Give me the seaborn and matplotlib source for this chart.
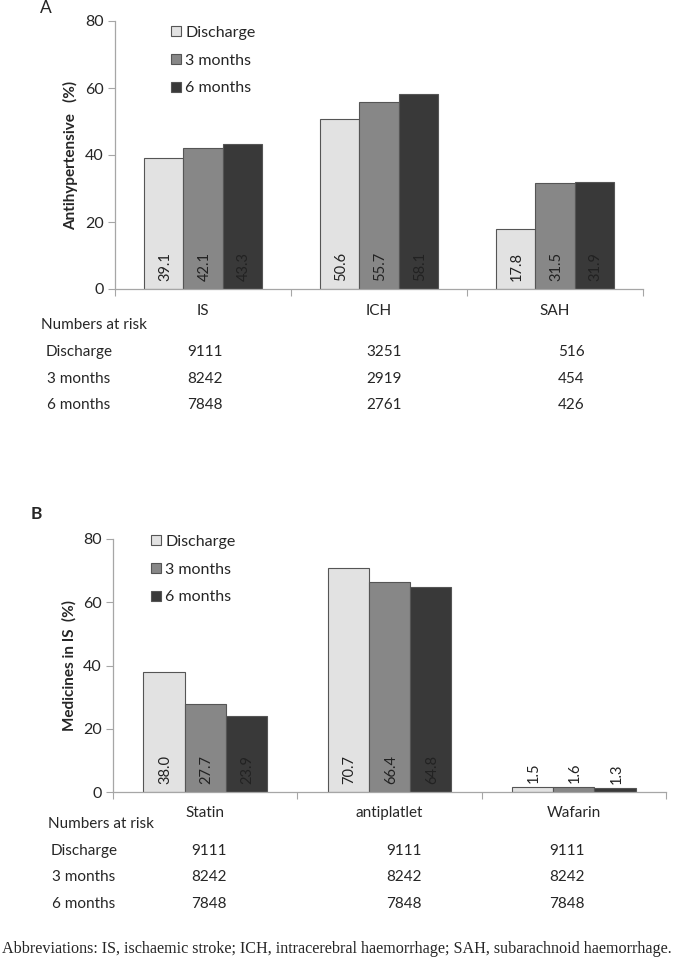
import matplotlib
matplotlib.use("Agg")
import matplotlib.pyplot as plt
import matplotlib.transforms as mtransforms
import numpy as np
import pandas as pd
import seaborn as sns

# ---- data -------------------------------------------------------------
TIMES = ["Discharge", "3 months", "6 months"]

cats_a = ["IS", "ICH", "SAH"]
discharge_a = [39.1, 50.6, 17.8]
month3_a = [42.1, 55.7, 31.5]
month6_a = [43.3, 58.1, 31.9]
risk_a = {
    "Discharge": [9111, 3251, 516],
    "3 months": [8242, 2919, 454],
    "6 months": [7848, 2761, 426],
}

cats_b = ["Statin", "antiplatlet", "Wafarin"]
discharge_b = [38.0, 70.7, 1.5]
month3_b = [27.7, 66.4, 1.6]
month6_b = [23.9, 64.8, 1.3]
risk_b = {
    "Discharge": [9111, 9111, 9111],
    "3 months": [8242, 8242, 8242],
    "6 months": [7848, 7848, 7848],
}

COLORS = ["#e2e2e2", "#878787", "#393939"]
EDGE = "#555555"
AXIS_GREY = "#a6a6a6"

W, H = 691, 959


def px(x, y):
    """pixel position (from top-left) -> figure fraction"""
    return x / W, 1 - y / H


def long_form(cats, d, m3, m6):
    rows = []
    for t, vals in zip(TIMES, [d, m3, m6]):
        for c, v in zip(cats, vals):
            rows.append({"cat": c, "time": t, "value": v})
    return pd.DataFrame(rows)


sns.set_theme(style="white")
plt.rcParams["font.family"] = ["Lato", "DejaVu Sans"]

fig = plt.figure(figsize=(W / 100, H / 100), dpi=100)


def panel(rect, cats, d, m3, m6, ylabel, legend_xy, risk, head_y, risk_x,
          row_y, numbers_xy, row_x):
    ax = fig.add_axes(rect)
    df = long_form(cats, d, m3, m6)
    sns.barplot(data=df, x="cat", y="value", hue="time", hue_order=TIMES,
                palette=COLORS, saturation=1, width=0.67, edgecolor=EDGE,
                linewidth=0.8, ax=ax, legend=True)

    ax.set_xlim(-0.5, len(cats) - 0.5)
    ax.set_ylim(0, 80)
    ax.set_yticks([0, 20, 40, 60, 80])
    ax.set_xticks(np.arange(len(cats) + 1) - 0.5)
    ax.set_xticklabels([])
    ax.set_xlabel("")
    ax.set_ylabel(ylabel, fontsize=11, fontweight="bold", labelpad=5)
    ax.tick_params(axis="y", left=True, length=5, width=0.8, color=AXIS_GREY,
                   labelsize=11.5, pad=3)
    ax.tick_params(axis="x", bottom=True, length=5, width=0.8, color=AXIS_GREY)
    for s in ["top", "right"]:
        ax.spines[s].set_visible(False)
    for s in ["left", "bottom"]:
        ax.spines[s].set_color(AXIS_GREY)
        ax.spines[s].set_linewidth(0.9)

    # value labels, rotated, at the base of each bar (above it if too short)
    for cont in ax.containers:
        for bar in cont:
            h = bar.get_height()
            cx = bar.get_x() + bar.get_width() / 2
            if h < 10:
                ax.annotate(f"{h:.1f}", xy=(cx, h), xytext=(1, 3),
                            textcoords="offset points", rotation=90,
                            ha="center", va="bottom", fontsize=10.5,
                            color="#222222")
            else:
                ax.annotate(f"{h:.1f}", xy=(cx, 0), xytext=(1, 6),
                            textcoords="offset points", rotation=90,
                            ha="center", va="bottom", fontsize=10.5,
                            color="#222222")

    handles, labels = ax.get_legend_handles_labels()
    ax.legend(handles, labels, loc="upper left",
              bbox_to_anchor=px(*legend_xy), bbox_transform=fig.transFigure,
              frameon=False, fontsize=11.5, handlelength=0.6, handleheight=0.6,
              handletextpad=0.3, labelspacing=0.86, borderaxespad=0,
              borderpad=0)

    # numbers-at-risk table
    blend = mtransforms.blended_transform_factory(ax.transData, fig.transFigure)
    for i, c in enumerate(cats):
        ax.text(i, px(0, head_y)[1], c, transform=blend, ha="center",
                va="center", fontsize=11)
    fig.text(*px(*numbers_xy), "Numbers at risk", ha="left", va="center",
             fontsize=11)
    for t, yy in zip(TIMES, row_y):
        fig.text(*px(row_x, yy), t, ha="center", va="center", fontsize=11)
        for xx, n in zip(risk_x, risk[t]):
            fig.text(*px(xx, yy), str(n), ha="center", va="center",
                     fontsize=11)
    return ax


panel([115 / W, 1 - 289 / H, 528 / W, 268 / H], cats_a,
      discharge_a, month3_a, month6_a, "Antihypertensive   (%)",
      (171, 26), risk_a, 311, [205, 384, 571], [352, 379, 405], (41, 325), 79)

panel([113 / W, 1 - 792 / H, 553 / W, 253 / H], cats_b,
      discharge_b, month3_b, month6_b, "Medicines in IS  (%)",
      (151, 535), risk_b, 813, [209, 404, 567], [851, 877, 904], (48, 824), 84)

fig.text(*px(46, 8), "A", ha="center", va="center", fontsize=12.5)
fig.text(*px(36, 514), "B", ha="center", va="center", fontsize=12.5,
         fontweight="bold")

fig.text(*px(2, 949), "Abbreviations: IS, ischaemic stroke; ICH, intracerebral "
         "haemorrhage; SAH, subarachnoid haemorrhage.", ha="left", va="center",
         fontsize=11.6, family=["Liberation Serif", "DejaVu Serif"])

fig.savefig("out.png", dpi=100)
